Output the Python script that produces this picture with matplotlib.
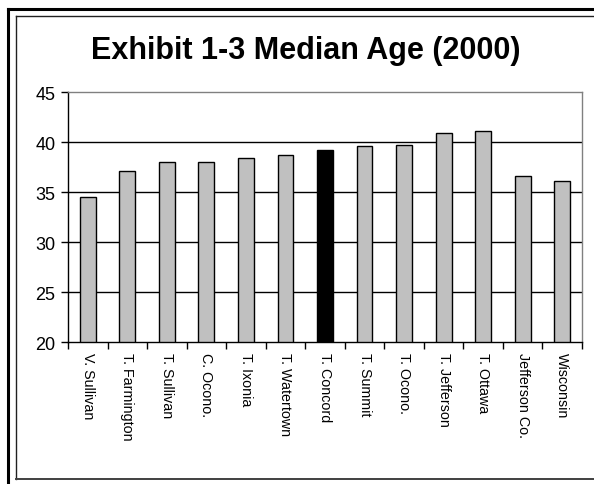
import numpy as np
import matplotlib.pyplot as plt
from matplotlib.lines import Line2D

plt.rcParams['font.family'] = ['Liberation Sans', 'DejaVu Sans']

# Data
places = ['V. Sullivan', 'T. Farmington', 'T. Sullivan', 'C. Ocono.', 'T. Ixonia',
          'T. Watertown', 'T. Concord', 'T. Summit', 'T. Ocono.', 'T. Jefferson',
          'T. Ottawa', 'Jefferson Co.', 'Wisconsin']
median_age = [34.5, 37.1, 38.0, 38.0, 38.4, 38.7, 39.2, 39.6, 39.7, 40.9, 41.1, 36.6, 36.1]
highlight = 'T. Concord'
y_ticks = [20, 25, 30, 35, 40, 45]

W, H = 594, 485
fig = plt.figure(figsize=(W / 100, H / 100), dpi=100)
ax = fig.add_axes([68 / W, 1 - 343 / H, (582 - 68) / W, (343 - 93) / H])

x = np.arange(len(places))
colors = ['black' if p == highlight else '#C0C0C0' for p in places]
ax.bar(x, np.array(median_age) - 20, bottom=20, width=0.4, color=colors,
       edgecolor='black', linewidth=1.0, zorder=3)

ax.set_xlim(-0.5, len(places) - 0.5)
ax.set_ylim(20, 45)
ax.set_yticks(y_ticks)
ax.set_yticklabels([str(v) for v in y_ticks], fontsize=13)
for v in y_ticks[1:-1]:
    ax.axhline(v, color='black', linewidth=1.0, zorder=1)

# category labels between boundary ticks
ax.set_xticks(x)
ax.set_xticklabels(places, rotation=270, fontsize=10.3, va='top', ha='center')
ax.tick_params(axis='x', length=0, pad=7)
ax.set_xticks(np.arange(len(places) + 1) - 0.5, minor=True)
ax.tick_params(axis='x', which='minor', length=5, width=1, direction='out')
ax.tick_params(axis='y', length=5, width=1, direction='out', pad=4)

for s in ['left', 'bottom']:
    ax.spines[s].set_color('black')
    ax.spines[s].set_linewidth(1.0)
for s in ['top', 'right']:
    ax.spines[s].set_color('#808080')
    ax.spines[s].set_linewidth(1.0)

fig.text(306 / W, 1 - 51 / H, 'Exhibit 1-3 Median Age (2000)', ha='center', va='center',
         fontsize=22, fontweight='bold')

# outer frame (right/bottom run off the picture)
def px_line(xs, ys, lw, color):
    fig.add_artist(Line2D([v / W for v in xs], [1 - v / H for v in ys],
                          transform=fig.transFigure, color=color, linewidth=lw))

px_line([7.5, 7.5], [9.5, 490], 2.2, 'black')
px_line([7.5, 600], [9.5, 9.5], 2.2, 'black')
px_line([15.5, 15.5], [16.5, 479.5], 1.0, '#202020')
px_line([15.5, 600], [16.5, 16.5], 1.0, '#202020')
px_line([15.5, 600], [479.5, 479.5], 1.4, '#404040')

fig.savefig('out.png', dpi=100)
